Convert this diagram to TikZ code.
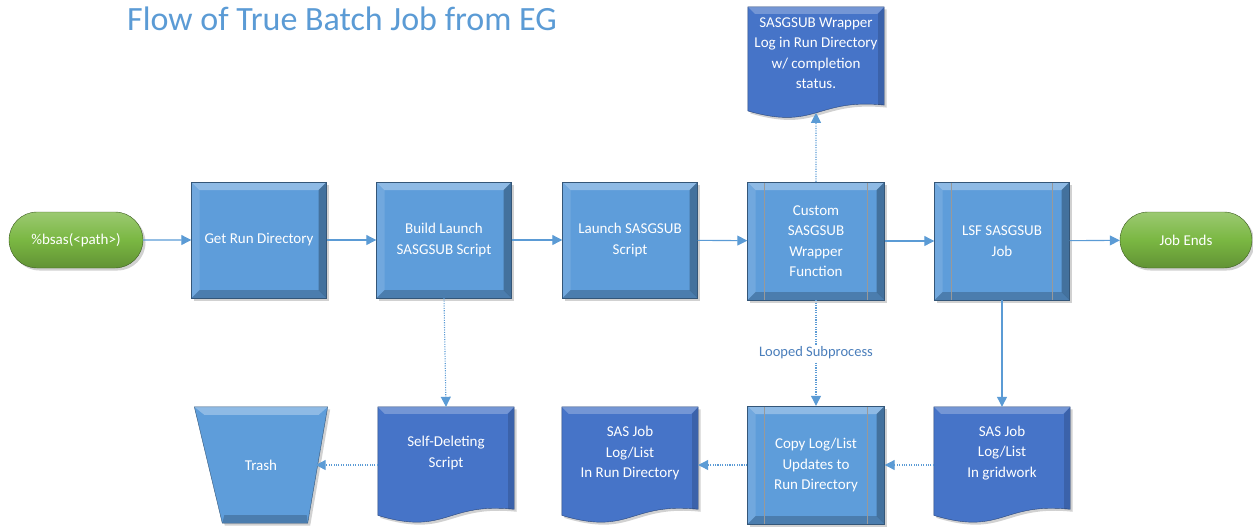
\documentclass[tikz,border=0pt]{standalone}
\usepackage{fontspec}
\setmainfont{Carlito}
\usetikzlibrary{arrows.meta,shapes.misc,shadows,backgrounds,calc}

\definecolor{boxblue}{RGB}{94,157,218}
\definecolor{docblue}{RGB}{70,116,200}
\definecolor{startgreen}{RGB}{122,183,66}
\definecolor{linkblue}{RGB}{91,155,213}
\definecolor{titleblue}{RGB}{91,155,213}
\definecolor{notetext}{RGB}{74,126,187}

% bevel of the process boxes
\newcommand{\bevelfill}{%
  \path (path picture bounding box.north west) coordinate (pa)
        (path picture bounding box.north east) coordinate (pb)
        (path picture bounding box.south east) coordinate (pc)
        (path picture bounding box.south west) coordinate (pd);
  \fill[white,opacity=.3] (pa) -- (pb) -- ([shift={(-8pt,-8pt)}]pb) -- ([shift={(8pt,-8pt)}]pa) -- cycle;
  \fill[white,opacity=.12] (pa) -- ([shift={(8pt,-8pt)}]pa) -- ([shift={(8pt,8pt)}]pd) -- (pd) -- cycle;
  \fill[black,opacity=.28] (pb) -- (pc) -- ([shift={(-8pt,8pt)}]pc) -- ([shift={(-8pt,-8pt)}]pb) -- cycle;
  \fill[black,opacity=.2] (pd) -- (pc) -- ([shift={(-8pt,8pt)}]pc) -- ([shift={(8pt,8pt)}]pd) -- cycle;}
\newcommand{\sublines}{%
  \draw[black!40, line width=.7pt] ([xshift=17pt]pa) -- ([xshift=17pt]pd)
        ([xshift=-17pt]pb) -- ([xshift=-17pt]pc);}

% sheet with a wavy foot behind a text node: #1 node, #2 sheet height
\newcommand{\docshape}[2]{%
  \begin{pgfonlayer}{background}
    \path (#1.north west) coordinate (#1-nw) (#1.north east) coordinate (#1-ne);
    \path ($(#1-ne)+(0,0.84*#2)$) coordinate (#1-re)
          ($(#1-nw)+(0,0.89*#2)$) coordinate (#1-le)
          ($(#1-nw)!0.5!(#1-ne)+(0,0.906*#2)$) coordinate (#1-w);
    \fill[docblue, draw=docblue!60!black, line width=.4pt, boxshadow]
      (#1-nw) -- (#1-ne) -- (#1-re)
      .. controls ($(#1-nw)!0.5!(#1-ne)+(0,0.78*#2)$) and ($(#1-nw)!0.5!(#1-ne)+(0,1.06*#2)$) .. (#1-le)
      -- cycle;
    \fill[white,opacity=.25] (#1-nw) -- (#1-ne) -- ([shift={(-7pt,-7pt)}]#1-ne) -- ([shift={(7pt,-7pt)}]#1-nw) -- cycle;
    \fill[black,opacity=.15] (#1-ne) -- (#1-re) -- ([xshift=-6pt]#1-re) -- ([shift={(-6pt,-7pt)}]#1-ne) -- cycle;
  \end{pgfonlayer}}

\tikzset{
  every node/.style={font=\fontsize{15}{20.5}\selectfont, text=white, align=center, inner sep=0pt},
  boxshadow/.style={drop shadow={shadow xshift=2.5pt, shadow yshift=-2.5pt, opacity=.3, fill=black!60}},
  procbox/.style={rectangle, fill=boxblue, draw=boxblue!55!black, line width=.4pt,
    minimum width=135pt, minimum height=116pt, boxshadow, path picture={\bevelfill}},
  subproc/.style={procbox, minimum width=137pt, minimum height=118pt, path picture={\bevelfill\sublines}},
  terminal/.style={rounded rectangle, minimum width=134pt, minimum height=56pt, boxshadow,
    top color=startgreen!75!white, bottom color=startgreen!80!black, middle color=startgreen,
    draw=startgreen!50!black, line width=.4pt},
  doctext/.style={rectangle, minimum width=136pt, minimum height=92pt},
  trashtext/.style={rectangle, minimum width=133pt, minimum height=116pt},
  link/.style={draw=linkblue, line width=1.1pt, -{Triangle[length=10pt,width=10pt]}},
  dotlink/.style={link, dash pattern=on 1.1pt off 1.3pt}
}

\begin{document}
\begin{tikzpicture}[x=1pt, y=-1pt]
  \useasboundingbox (0,0) rectangle (1253,531);
  \node[anchor=base west, text=titleblue, font=\fontsize{34}{40}\selectfont] (title) at (127,30) {Flow of True Batch Job from EG};

  % top row
  \node[terminal] (start) at (76,240) {\%bsas(<path>)};
  \node[procbox] (getrun) at (259,240) {Get Run Directory};
  \node[procbox] (build) at (444,240) {Build Launch\\SASGSUB Script};
  \node[procbox] (launch) at (630,240) {Launch SASGSUB\\Script};
  \node[subproc] (wrapper) at (816,241) {Custom\\SASGSUB\\Wrapper\\Function};
  \node[subproc, minimum width=135pt] (lsf) at (1002,241) {LSF SASGSUB\\Job};
  \node[terminal, minimum width=132pt] (jobends) at (1186,240) {Job Ends};

  % documents
  \node[doctext] (logdoc) at (816,53) {SASGSUB Wrapper\\Log in Run Directory\\w/ completion\\status.};
  \docshape{logdoc}{117}
  \node[doctext] (selfdel) at (446,453) {Self-Deleting\\Script};
  \docshape{selfdel}{122}
  \node[doctext] (rundoc) at (630,453) {SAS Job\\Log/List\\In Run Directory};
  \docshape{rundoc}{122}
  \node[doctext] (griddoc) at (1002,453) {SAS Job\\Log/List\\In gridwork};
  \docshape{griddoc}{122}

  % bottom row
  \node[subproc] (copy) at (816,465) {Copy Log/List\\Updates to\\Run Directory};
  \node[trashtext] (trash) at (261,465) {Trash};
  \begin{pgfonlayer}{background}
    \fill[boxblue, draw=boxblue!55!black, line width=.4pt, boxshadow]
      (trash.north west) -- (trash.north east) -- ([xshift=-20pt]trash.south east)
      -- ([xshift=28pt]trash.south west) -- cycle;
    \fill[white,opacity=.3] (trash.north west) -- (trash.north east) -- ([shift={(-9pt,-8pt)}]trash.north east)
      -- ([shift={(10pt,-8pt)}]trash.north west) -- cycle;
    \fill[black,opacity=.2] ([xshift=28pt]trash.south west) -- ([xshift=-20pt]trash.south east)
      -- ([shift={(-21pt,8pt)}]trash.south east) -- ([shift={(30pt,8pt)}]trash.south west) -- cycle;
  \end{pgfonlayer}
  \coordinate (trashin) at ([xshift=-12pt]trash.east);

  % connectors
  \draw[link] (start) -- (getrun);
  \draw[link] (getrun) -- (build);
  \draw[link] (build) -- (launch);
  \draw[link] (launch) -- (wrapper);
  \draw[link] (wrapper) -- (lsf);
  \draw[link] (lsf) -- (jobends);
  \draw[dotlink] (wrapper.north) -- (logdoc-w);
  \draw[dotlink] (build.south) -- (selfdel.north);
  \draw[dotlink] (wrapper.south) -- node[fill=white, text=notetext, inner sep=2pt, font=\fontsize{14.5}{17}\selectfont] (looped) {Looped Subprocess} (copy.north);
  \draw[link] (lsf.south) -- (griddoc.north);
  \draw[dotlink] (griddoc.west |- copy.east) -- (copy.east);
  \draw[dotlink] (copy.west) -- (rundoc.east |- copy.west);
  \draw[dotlink] (selfdel.west |- trashin) -- (trashin);
\end{tikzpicture}
\end{document}
